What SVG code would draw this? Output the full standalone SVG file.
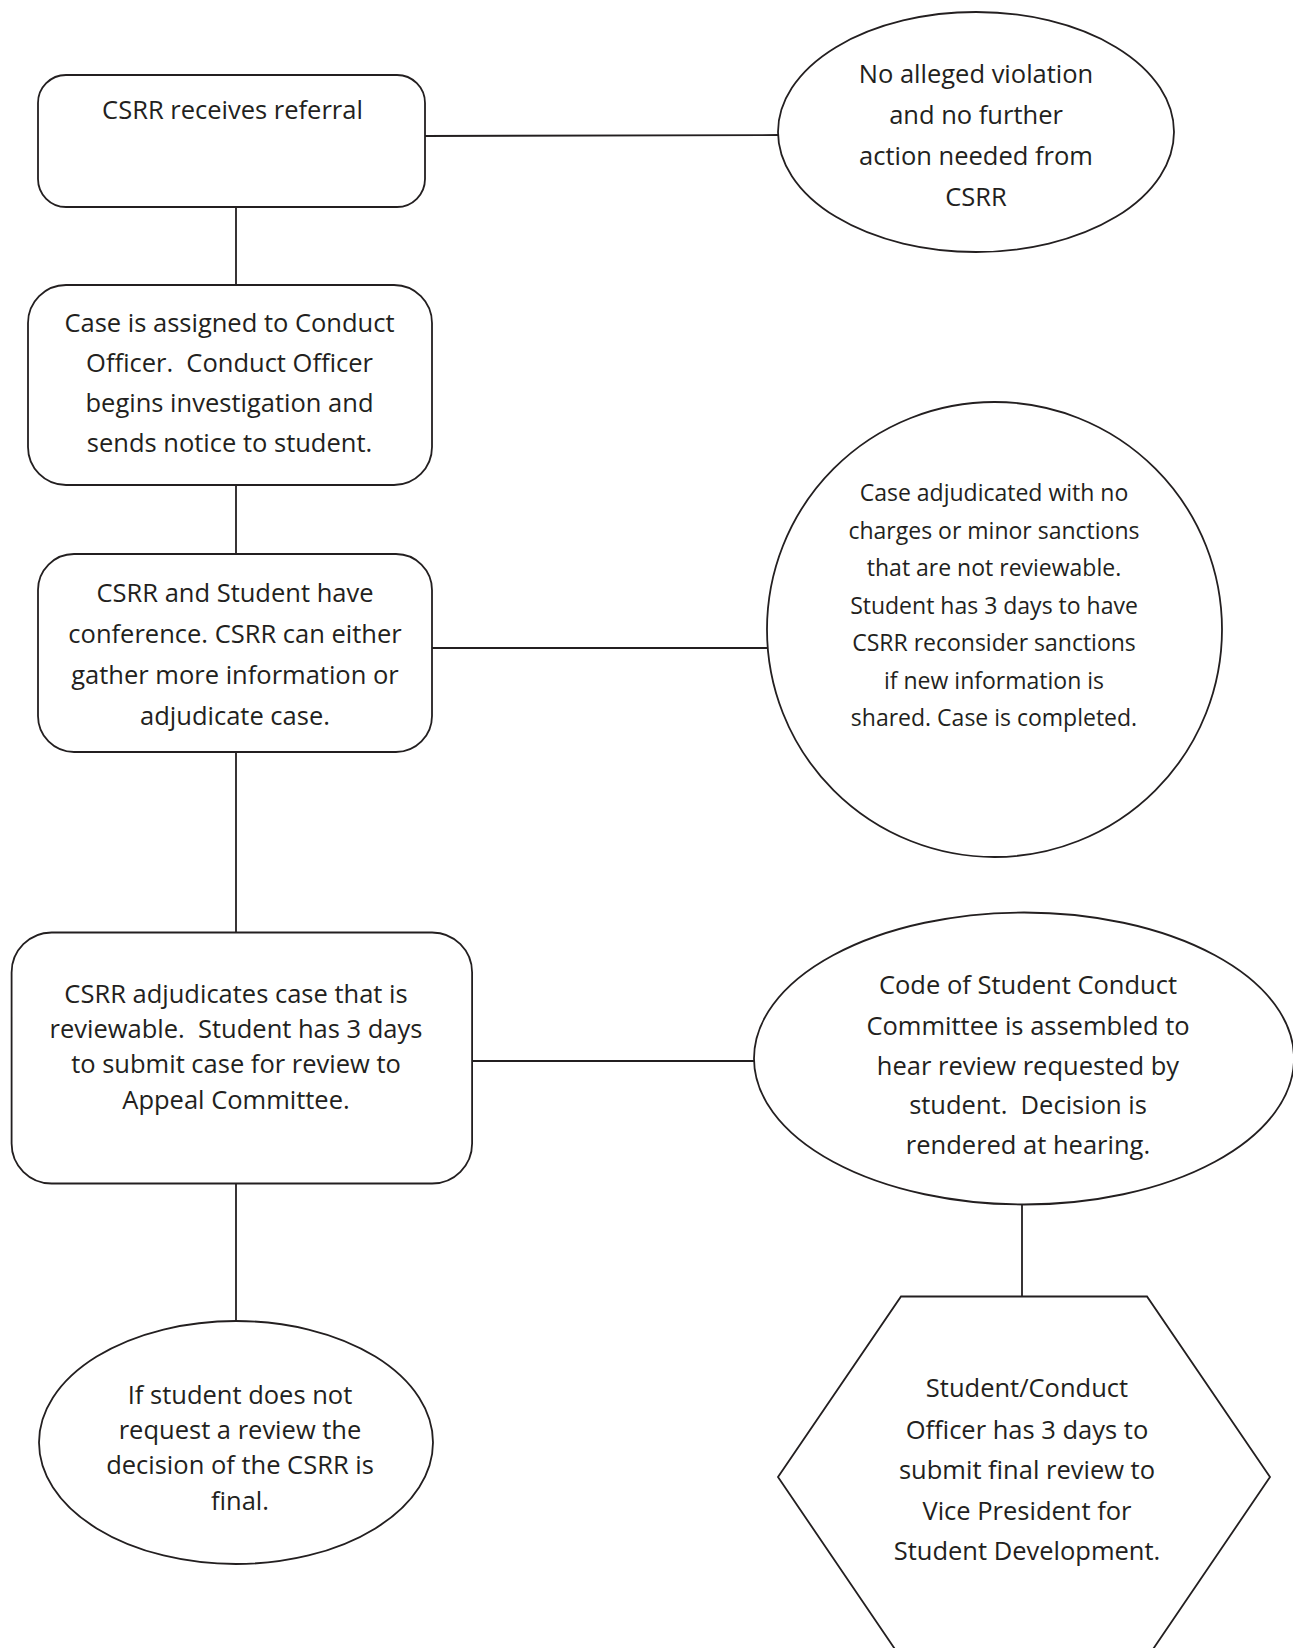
<svg xmlns="http://www.w3.org/2000/svg" width="1293" height="1648" viewBox="0 0 1293 1648">
<style>
.shape{fill:#ffffff;stroke:#231f20;stroke-width:1.8}
.conn{fill:none;stroke:#231f20;stroke-width:1.8}
text{font-family:"Open Sans","Noto Sans",sans-serif;font-size:25.5px;fill:#231f20;text-anchor:middle;white-space:pre}
.small{font-size:23px}
</style>
<rect width="1293" height="1648" fill="#ffffff"/>
<g id="connectors">
<line class="conn" x1="425" y1="136" x2="779" y2="135"/>
<line class="conn" x1="236" y1="207" x2="236" y2="285"/>
<line class="conn" x1="236" y1="485" x2="236" y2="554"/>
<line class="conn" x1="432" y1="648" x2="767" y2="648"/>
<line class="conn" x1="236" y1="752" x2="236" y2="932"/>
<line class="conn" x1="472" y1="1061" x2="754" y2="1061"/>
<line class="conn" x1="236" y1="1184" x2="236" y2="1321"/>
<line class="conn" x1="1022" y1="1204.5" x2="1022" y2="1296.5"/>
</g>
<g id="node-referral">
<rect class="shape" x="38" y="75" width="387" height="132" rx="28"/>
<text x="232.5" y="119">CSRR receives referral</text>
</g>
<g id="node-no-violation">
<ellipse class="shape" cx="976" cy="132" rx="198" ry="120"/>
<text x="976" y="83">No alleged violation</text>
<text x="976" y="124">and no further</text>
<text x="976" y="165">action needed from</text>
<text x="976" y="206">CSRR</text>
</g>
<g id="node-assigned">
<rect class="shape" x="28" y="285" width="404" height="200" rx="38"/>
<text x="229.5" y="332">Case is assigned to Conduct</text>
<text x="229.5" y="372">Officer.  Conduct Officer</text>
<text x="229.5" y="412">begins investigation and</text>
<text x="229.5" y="451.5">sends notice to student.</text>
</g>
<g id="node-conference">
<rect class="shape" x="38" y="554" width="394" height="198" rx="36"/>
<text x="235" y="602">CSRR and Student have</text>
<text x="235" y="643">conference. CSRR can either</text>
<text x="235" y="684">gather more information or</text>
<text x="235" y="725">adjudicate case.</text>
</g>
<g id="node-not-reviewable">
<ellipse class="shape" cx="994.5" cy="629.5" rx="227.5" ry="227.5"/>
<text class="small" x="994" y="501">Case adjudicated with no</text>
<text class="small" x="994" y="538.5">charges or minor sanctions</text>
<text class="small" x="994" y="576">that are not reviewable.</text>
<text class="small" x="994" y="613.5">Student has 3 days to have</text>
<text class="small" x="994" y="651">CSRR reconsider sanctions</text>
<text class="small" x="994" y="688.5">if new information is</text>
<text class="small" x="994" y="726">shared. Case is completed.</text>
</g>
<g id="node-reviewable">
<rect class="shape" x="11.6" y="932.5" width="460.5" height="251" rx="40"/>
<text x="236" y="1003">CSRR adjudicates case that is</text>
<text x="236" y="1038">reviewable.  Student has 3 days</text>
<text x="236" y="1073">to submit case for review to</text>
<text x="236" y="1108.5">Appeal Committee.</text>
</g>
<g id="node-committee">
<ellipse class="shape" cx="1024" cy="1058.5" rx="270" ry="146"/>
<text x="1028" y="994">Code of Student Conduct</text>
<text x="1028" y="1034.5">Committee is assembled to</text>
<text x="1028" y="1074.5">hear review requested by</text>
<text x="1028" y="1113.5">student.  Decision is</text>
<text x="1028" y="1153.5">rendered at hearing.</text>
</g>
<g id="node-final">
<ellipse class="shape" cx="236" cy="1442.5" rx="197" ry="121.5"/>
<text x="240" y="1404">If student does not</text>
<text x="240" y="1439">request a review the</text>
<text x="240" y="1473.5">decision of the CSRR is</text>
<text x="240" y="1510">final.</text>
</g>
<g id="node-vp-review">
<polygon class="shape" points="901,1296.5 1147,1296.5 1270,1477 1147,1658 901,1658 778,1477"/>
<text x="1027" y="1397">Student/Conduct</text>
<text x="1027" y="1439">Officer has 3 days to</text>
<text x="1027" y="1479">submit final review to</text>
<text x="1027" y="1520">Vice President for</text>
<text x="1027" y="1560">Student Development.</text>
</g>
</svg>
